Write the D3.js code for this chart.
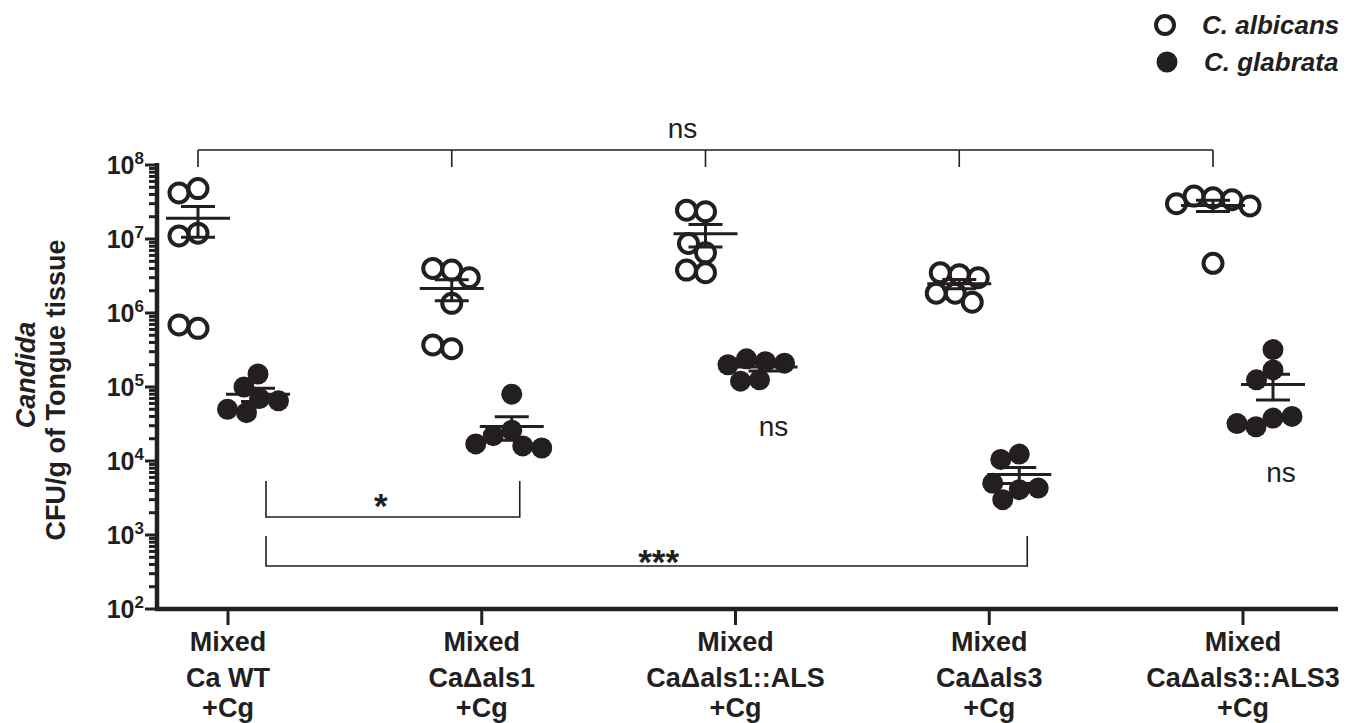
<!DOCTYPE html>
<html>
<head>
<meta charset="utf-8">
<script src="https://cdn.jsdelivr.net/npm/d3@7"></script>
<style>
  body { margin: 0; background: #fff; }
  text { font-family: "Liberation Sans", Arial, sans-serif; fill: #231f20; }
</style>
</head>
<body>
<div id="chart"></div>
<script>
const width = 1355;
const height = 723;
const ink = "#231f20";

// groups (x categories)
const groups = ["Ca WT", "Ca\u0394als1", "Ca\u0394als1::ALS", "Ca\u0394als3", "Ca\u0394als3::ALS3"];

// CFU/g per mouse
const albicans = [
    [4.8e7, 4.2e7, 1.2e7, 1.1e7, 6.2e5, 6.9e5],
    [3.8e6, 4.0e6, 3.0e6, 1.35e6, 3.3e5, 3.7e5],
    [2.34e7, 2.45e7, 6.5e6, 8.7e6, 3.5e6, 3.8e6],
    [3.3e6, 3.5e6, 3.0e6, 1.85e6, 1.4e6, 1.85e6],
    [3.6e7, 3.8e7, 3.4e7, 3.0e7, 2.8e7, 4.7e6]
];
const glabrata = [
    [1.5e5, 1.0e5, 7.0e4, 6.5e4, 4.5e4, 5.0e4],
    [8.0e4, 2.6e4, 2.2e4, 1.6e4, 1.5e4, 1.7e4],
    [2.2e5, 2.4e5, 2.1e5, 2.0e5, 1.25e5, 1.2e5],
    [1.24e4, 1.05e4, 4.1e3, 3.0e3, 4.3e3, 5.0e3],
    [3.2e5, 1.7e5, 1.25e5, 3.8e4, 2.9e4, 4.0e4, 3.2e4]
];

const yMajor = [1e2, 1e3, 1e4, 1e5, 1e6, 1e7, 1e8];
const yExp = ["2", "3", "4", "5", "6", "7", "8"];

const svg = d3.select("#chart")
    .append("svg")
    .attr("width", width)
    .attr("height", height);

const y = d3.scaleLog().domain([1e2, 1e8]).range([609, 165]);
const x = d3.scalePoint().domain(groups).range([228, 1243]);
const off = 30; // species offset inside a group

// y axis: line, major + minor ticks (minor = 2..9 x 10^n)
const minor = [];
for (let e = 2; e < 8; e++) for (let m = 2; m <= 9; m++) minor.push(m * Math.pow(10, e));

const yAxis = svg.append("g");
yAxis.append("line")
    .attr("x1", 157).attr("x2", 157)
    .attr("y1", y(1e2) + 2).attr("y2", y(1e8) - 2)
    .attr("stroke", ink).attr("stroke-width", 4.5);
yAxis.selectAll(".tk")
    .data(yMajor.concat(minor))
    .enter()
    .append("line")
    .attr("class", "tk")
    .attr("x1", 157)
    .attr("x2", d => yMajor.includes(d) ? 145 : 149)
    .attr("y1", d => y(d))
    .attr("y2", d => y(d))
    .attr("stroke", ink)
    .attr("stroke-width", 3);

// y tick labels 10^n
yMajor.forEach((v, i) => {
    const t = svg.append("text")
        .attr("x", 144)
        .attr("y", y(v) + 9)
        .attr("text-anchor", "end")
        .style("font-weight", "bold")
        .style("font-size", "25px");
    t.append("tspan").text("10");
    t.append("tspan").attr("dy", -10).style("font-size", "17px").text(yExp[i]);
});

// x axis
const xAxis = svg.append("g");
xAxis.append("line")
    .attr("x1", 155).attr("x2", 1338)
    .attr("y1", y(1e2)).attr("y2", y(1e2))
    .attr("stroke", ink).attr("stroke-width", 4.5);
xAxis.selectAll(".tk")
    .data(groups)
    .enter()
    .append("line")
    .attr("class", "tk")
    .attr("x1", d => x(d)).attr("x2", d => x(d))
    .attr("y1", y(1e2)).attr("y2", y(1e2) + 16)
    .attr("stroke", ink).attr("stroke-width", 3);

groups.forEach(g => {
    const lines = ["Mixed", g, "+Cg"];
    const ys = [651, 687, 717];
    lines.forEach((s, i) => {
        svg.append("text")
            .attr("x", x(g))
            .attr("y", ys[i])
            .attr("text-anchor", "middle")
            .style("font-weight", "bold")
            .style("font-size", "27px")
            .text(s);
    });
});

// y title
svg.append("text")
    .attr("transform", "translate(35,375) rotate(-90)")
    .attr("text-anchor", "middle")
    .style("font-weight", "bold")
    .style("font-style", "italic")
    .style("font-size", "27px")
    .text("Candida");
svg.append("text")
    .attr("transform", "translate(65,390) rotate(-90)")
    .attr("text-anchor", "middle")
    .style("font-weight", "bold")
    .style("font-size", "27px")
    .text("CFU/g of Tongue tissue");

// simple beeswarm so dots spread sideways like the Prism plot
function swarm(values, cx, minDist) {
    const placed = [];
    values.forEach(v => {
        const py = y(v);
        let dx = 0;
        for (let k = 0; k <= 80; k += 0.5) {
            const cands = k === 0 ? [0] : [-k, k];
            const ok = cands.find(c => placed.every(p => (p.dx - c) ** 2 + (p.py - py) ** 2 >= minDist * minDist));
            if (ok !== undefined) { dx = ok; break; }
        }
        placed.push({ v, py, dx });
    });
    return placed.map(p => ({ value: p.v, x: cx + p.dx, y: p.py }));
}

function drawGroup(values, cx, filled) {
    const pts = swarm(values, cx, 19);
    const gg = svg.append("g");
    gg.selectAll("circle")
        .data(pts)
        .enter()
        .append("circle")
        .attr("cx", d => d.x)
        .attr("cy", d => d.y)
        .attr("r", filled ? 10.5 : 9.5)
        .attr("fill", filled ? ink : "none")
        .attr("stroke", ink)
        .attr("stroke-width", filled ? 0 : 4);

    // mean +/- SEM
    const mean = d3.mean(values);
    const sem = d3.deviation(values) / Math.sqrt(values.length);
    gg.append("line").attr("x1", cx - 32).attr("x2", cx + 32)
        .attr("y1", y(mean)).attr("y2", y(mean));
    gg.append("line").attr("x1", cx - 17).attr("x2", cx + 17)
        .attr("y1", y(mean + sem)).attr("y2", y(mean + sem));
    gg.append("line").attr("x1", cx - 17).attr("x2", cx + 17)
        .attr("y1", y(mean - sem)).attr("y2", y(mean - sem));
    gg.append("line").attr("x1", cx).attr("x2", cx)
        .attr("y1", y(mean + sem)).attr("y2", y(mean - sem));
    gg.selectAll("line").attr("stroke", ink).attr("stroke-width", 3);
}

groups.forEach((g, i) => {
    drawGroup(albicans[i], x(g) - off, false);
    drawGroup(glabrata[i], x(g) + off, true);
});

// significance brackets
function path(d) {
    svg.append("path").attr("d", d)
        .attr("stroke", ink).attr("stroke-width", 1.6).attr("fill", "none");
}

// top "ns" across all albicans groups
const caX = groups.map(g => x(g) - off);
path(`M${caX[0]},150H${caX[4]}` + caX.map(cx => `M${cx},150V167`).join(""));
svg.append("text").attr("x", (caX[0] + caX[4]) / 2 - 23).attr("y", 138)
    .attr("text-anchor", "middle").style("font-size", "28px").text("ns");

// glabrata comparisons vs WT
const cgX = groups.map(g => x(g) + off + 8);
path(`M${cgX[0]},481V517H${cgX[1]}V481`);
svg.append("text").attr("x", (cgX[0] + cgX[1]) / 2 - 12).attr("y", 518)
    .attr("text-anchor", "middle").style("font-size", "35px").style("font-weight", "bold").text("*");
path(`M${cgX[0]},536V566H${cgX[3]}V536`);
svg.append("text").attr("x", (cgX[0] + cgX[3]) / 2 + 12).attr("y", 574)
    .attr("text-anchor", "middle").style("font-size", "35px").style("font-weight", "bold").text("***");

// ns under glabrata groups 3 and 5
[2, 4].forEach(i => {
    svg.append("text")
        .attr("x", cgX[i])
        .attr("y", y(d3.min(glabrata[i])) + 55)
        .attr("text-anchor", "middle")
        .style("font-size", "28px")
        .text("ns");
});

// legend
const legend = svg.append("g");
legend.append("circle").attr("cx", 1165).attr("cy", 25).attr("r", 9)
    .attr("fill", "none").attr("stroke", ink).attr("stroke-width", 4);
legend.append("circle").attr("cx", 1167).attr("cy", 62).attr("r", 10.5).attr("fill", ink);
legend.append("text").attr("x", 1202).attr("y", 34)
    .style("font-weight", "bold").style("font-style", "italic").style("font-size", "26px")
    .text("C. albicans");
legend.append("text").attr("x", 1204).attr("y", 71)
    .style("font-weight", "bold").style("font-style", "italic").style("font-size", "26px")
    .text("C. glabrata");
</script>
</body>
</html>
